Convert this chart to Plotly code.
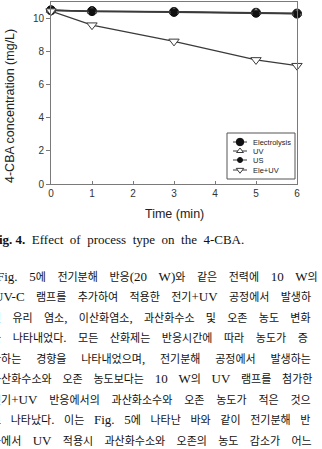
import math
import plotly.graph_objects as go

# ---------------- data ----------------
time_min = [0, 1, 3, 5, 6]
electrolysis = [10.5, 10.45, 10.4, 10.35, 10.3]
uv = [10.5, 10.45, 10.42, 10.38, 10.32]
us = [10.5, 10.42, 10.38, 10.3, 10.28]
ele_uv = [10.45, 9.6, 8.62, 7.5, 7.15]
series_names = ["Electrolysis", "UV", "US", "Ele+UV"]
x_ticks = [0, 1, 2, 3, 4, 5, 6]
y_ticks = [0, 2, 4, 6, 8, 10]

caption_bold = "Fig. 4."
caption_words = ["Effect", "of", "process", "type", "on", "the", "4-CBA."]
paragraph_lines = [
    "Fig. 5에 전기분해 반응(20 W)와 같은 전력에 10 W의",
    "UV-C 램프를 추가하여 적용한 전기+UV 공정에서 발생하",
    "된 유리 염소, 이산화염소, 과산화수소 및 오존 농도 변화",
    "를 나타내었다. 모든 산화제는 반응시간에 따라 농도가 증",
    "가하는 경향을 나타내었으며, 전기분해 공정에서 발생하는",
    "과산화수소와 오존 농도보다는 10 W의 UV 램프를 첨가한",
    "전기+UV 반응에서의 과산화소수와 오존 농도가 적은 것으",
    "로 나타났다. 이는 Fig. 5에 나타난 바와 같이 전기분해 반",
    "응에서 UV 적용시 과산화수소와 오존의 농도 감소가 어느",
]

# ---------------- layout constants (pixels) ----------------
W, H = 322, 449
L, R, T, B = 51, 297, 2, 184
LINE_C = "#3a3a3a"
AX_C = "#7a7a7a"
SANS = "Liberation Sans, Arial, sans-serif"
SERIF_KR = "Liberation Serif, Noto Sans CJK KR, serif"
KR_SIZE = 11
LAT_SIZE = 13


def px(xp):
    return (xp - L) / (R - L)


def py(yp):
    return (B - yp) / (B - T)


fig = go.Figure()

styles = {
    "Electrolysis": dict(symbol="circle", size=9, color="#111", line=dict(color="#111", width=1)),
    "UV": dict(symbol="triangle-up", size=8, color="white", line=dict(color=LINE_C, width=1)),
    "US": dict(symbol="circle", size=6, color="#111", line=dict(color="#111", width=1)),
    "Ele+UV": dict(symbol="triangle-down", size=9, color="white", line=dict(color=LINE_C, width=1)),
}
values = {"Electrolysis": electrolysis, "UV": uv, "US": us, "Ele+UV": ele_uv}

for name in series_names:
    fig.add_trace(go.Scatter(
        x=time_min, y=values[name], mode="lines+markers", name=name,
        line=dict(color=LINE_C, width=1.3), marker=styles[name],
        showlegend=False, cliponaxis=False,
    ))

# ---------------- custom compact legend ----------------
leg_box = (227, 133, 295, 179)
leg_y = [142, 151, 160, 170]
leg_line = (233, 247)
leg_mark_x = 240
leg_text_x = 251
leg_sizes = {"Electrolysis": 7.5, "UV": 6, "US": 5, "Ele+UV": 6.5}

fig.add_shape(type="rect", xref="paper", yref="paper",
              x0=px(leg_box[0]), x1=px(leg_box[2]), y0=py(leg_box[3]), y1=py(leg_box[1]),
              line=dict(color="#555", width=1), fillcolor="rgba(0,0,0,0)", layer="above")
for name, yy in zip(series_names, leg_y):
    m = dict(styles[name])
    m["size"] = leg_sizes[name]
    fig.add_trace(go.Scatter(
        x=[leg_line[0], leg_line[1]], y=[yy, yy],
        xaxis="x2", yaxis="y2", mode="lines",
        line=dict(color=LINE_C, width=1), showlegend=False, hoverinfo="skip",
    ))
    fig.add_trace(go.Scatter(
        x=[leg_mark_x], y=[yy],
        xaxis="x2", yaxis="y2", mode="markers",
        marker=m, showlegend=False, hoverinfo="skip",
    ))
    fig.add_annotation(x=px(leg_text_x), y=py(yy), xref="paper", yref="paper",
                       text=name, showarrow=False, xanchor="left", yanchor="middle",
                       font=dict(family=SANS, size=7.5, color="#222"))

# ---------------- axis titles ----------------
fig.add_annotation(x=px(10), y=py(106), xref="paper", yref="paper",
                   text="4-CBA concentration (mg/L)", textangle=-90, showarrow=False,
                   xanchor="center", yanchor="middle",
                   font=dict(family=SANS, size=12.5, color="#222"))
fig.add_annotation(x=px(174), y=py(214), xref="paper", yref="paper",
                   text="Time (min)", showarrow=False, xanchor="center", yanchor="middle",
                   font=dict(family=SANS, size=12.5, color="#222"))

# ---------------- caption ----------------
CAP_GAP = "\u00a0\u00a0"
caption = "<b>" + caption_bold + "</b>" + CAP_GAP + CAP_GAP.join(caption_words)
fig.add_annotation(x=px(-11.5), y=py(239), xref="paper", yref="paper",
                   text=caption, showarrow=False, xanchor="left", yanchor="middle",
                   font=dict(family="Liberation Serif, serif", size=13, color="#111"))

# ---------------- body text (justified look) ----------------
TIMES_W = {"F": .556, "i": .278, "g": .5, ".": .25, "(": .333, ")": .333, "W": .944,
           "U": .722, "V": .722, "-": .333, "C": .667, "+": .564, ",": .25}


def is_hangul(ch):
    return "\uac00" <= ch <= "\ud7a3"


def char_w(ch):
    if is_hangul(ch):
        return KR_SIZE
    if ch.isdigit():
        return 0.5 * LAT_SIZE
    return TIMES_W.get(ch, 0.5) * LAT_SIZE


def markup_word(word):
    out, buf, lat = [], "", None
    for ch in word:
        h = is_hangul(ch)
        if lat is None or h == (not lat):
            buf += ch
            lat = not h
        else:
            out.append((buf, lat))
            buf, lat = ch, not h
    if buf:
        out.append((buf, lat))
    s = ""
    for seg, is_lat in out:
        s += '<span style="font-size:%gpx">%s</span>' % (LAT_SIZE, seg) if is_lat else seg
    return s


def gap_markup(g):
    n = max(1, math.ceil(g * 4 / 12))
    fs = g * 4 / n
    return '<span style="font-size:%.2fpx">%s</span>' % (fs, "\u00a0" * n)


line_y0, line_dy = 276, 20.5
line_x = [-5, -8, -11, -11, -11, -11, -11, -11, -11]
line_end = [328, 327, 328, 326, 330, 328, 328, 326, 329]
for i, ln in enumerate(paragraph_lines):
    words = ln.split(" ")
    natural = sum(char_w(c) for w in words for c in w)
    g = (line_end[i] - line_x[i] - natural) / (len(words) - 1)
    g = max(3.0, g)
    txt = gap_markup(g).join(markup_word(w) for w in words)
    fig.add_annotation(x=px(line_x[i]), y=py(line_y0 + i * line_dy), xref="paper", yref="paper",
                       text=txt, showarrow=False, xanchor="left", yanchor="middle",
                       font=dict(family=SERIF_KR, size=KR_SIZE, color="#111"))

fig.update_layout(
    width=W, height=H,
    margin=dict(l=L, r=W - R, t=T, b=H - B, pad=0),
    paper_bgcolor="white", plot_bgcolor="white",
    showlegend=False,
    xaxis=dict(range=[0, 6], tickvals=x_ticks, ticks="inside", ticklen=3, tickcolor=AX_C,
               showline=True, linecolor=AX_C, linewidth=1, mirror=True, showgrid=False,
               zeroline=False, tickfont=dict(family=SANS, size=10, color="#333")),
    yaxis=dict(range=[0, 11], tickvals=y_ticks, ticks="outside", ticklen=4, tickcolor=AX_C,
               showline=True, linecolor=AX_C, linewidth=1, mirror=True, showgrid=False,
               zeroline=False, tickfont=dict(family=SANS, size=10, color="#333")),
    xaxis2=dict(range=[L, R], overlaying="x", visible=False),
    yaxis2=dict(range=[B, T], overlaying="y", visible=False),
)

fig.write_html("out.html")
